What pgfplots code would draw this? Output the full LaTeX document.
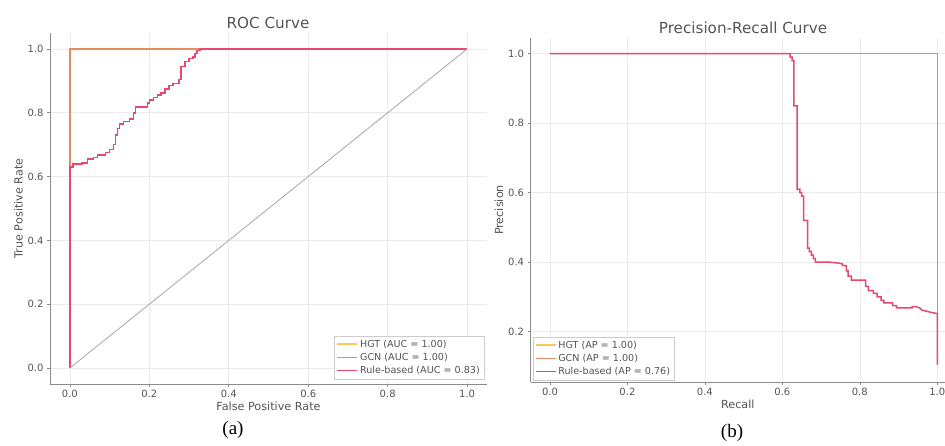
\documentclass[border=0pt]{standalone}
\usepackage{fontspec}
\setmainfont{DejaVu Sans}
\newfontfamily\capfont{Liberation Serif}
\usepackage{pgfplots}
\pgfplotsset{compat=1.18}
\definecolor{hgtc}{rgb}{0.98,0.78,0.35}
\definecolor{gcnc}{rgb}{0.89,0.55,0.38}
\definecolor{rulec}{rgb}{0.91,0.28,0.44}
\definecolor{spinec}{rgb}{0.55,0.55,0.55}
\definecolor{gridc}{rgb}{0.92,0.92,0.92}
\definecolor{txtc}{rgb}{0.33,0.33,0.33}
\pgfplotsset{mystyle/.style={
  scale only axis,
  axis lines*=left,
  axis line style={spinec, line width=0.9pt},
  grid=major,
  major grid style={gridc, line width=0.6pt},
  tick align=outside,
  major tick length=3pt,
  tick style={spinec, line width=0.6pt},
  xtick={0,0.2,0.4,0.6,0.8,1.0},
  ticklabel style={font=\fontsize{10}{12}\selectfont},
  /pgf/number format/fixed,
  /pgf/number format/fixed zerofill,
  /pgf/number format/precision=1,
  /pgf/number format/assume math mode=true,
  label style={font=\fontsize{11.2}{13}\selectfont},
  legend style={font=\fontsize{9.6}{11}\selectfont, draw=black!20, fill=white, inner sep=2pt, row sep=0.3pt},
  legend cell align=left,
  legend image code/.code={\draw[##1] (0pt,0pt) -- (20pt,0pt);},
}}
\begin{document}
\color{txtc}%
\begin{tikzpicture}
\useasboundingbox (0,0) rectangle (945pt,446pt);
% ---------------- ROC ----------------
\begin{axis}[mystyle,
  at={(50pt,62pt)}, anchor=south west,
  width=437pt, height=351pt,
  xmin=-0.05, xmax=1.05, ymin=-0.05, ymax=1.05,
  ytick={0,0.2,0.4,0.6,0.8,1.0},
  xlabel={False Positive Rate}, ylabel={True Positive Rate},
  xlabel style={yshift=3pt}, ylabel style={yshift=-2pt},
  legend style={at={(1,0)}, anchor=south east, xshift=-3pt, yshift=5pt},
]
\addplot[color=hgtc, line width=1.5pt] coordinates {(0,0)(0,1)(1,1)};
\addlegendentry{HGT (AUC = 1.00)}
\addplot[color=gcnc, line width=1.5pt] coordinates {(0,0)(0,1)(1,1)};
\addlegendentry{GCN (AUC = 1.00)}
\addplot[color=rulec, line width=1.5pt] coordinates {
(0,0)(0,0.63)(0.008,0.63)(0.008,0.64)(0.03,0.64)(0.03,0.642)(0.045,0.642)(0.045,0.655)
(0.06,0.655)(0.06,0.66)(0.07,0.66)(0.07,0.668)(0.09,0.668)(0.09,0.675)(0.1,0.675)(0.1,0.685)
(0.11,0.685)(0.11,0.70)(0.115,0.70)(0.115,0.73)(0.12,0.73)(0.12,0.75)(0.125,0.75)(0.125,0.765)
(0.135,0.765)(0.135,0.772)(0.15,0.772)(0.15,0.78)(0.16,0.78)(0.16,0.80)(0.165,0.80)(0.165,0.818)
(0.195,0.818)(0.195,0.83)(0.2,0.83)(0.2,0.84)(0.21,0.84)(0.21,0.848)(0.22,0.848)(0.22,0.855)
(0.23,0.855)(0.23,0.862)(0.24,0.862)(0.24,0.875)(0.25,0.875)(0.25,0.885)(0.26,0.885)(0.26,0.892)
(0.275,0.892)(0.275,0.905)(0.28,0.905)(0.28,0.945)(0.29,0.945)(0.29,0.96)(0.30,0.96)(0.30,0.97)
(0.31,0.97)(0.31,0.975)(0.315,0.975)(0.315,0.985)(0.32,0.985)(0.32,0.995)(0.328,0.995)(0.328,1.0)(1,1)};
\addlegendentry{Rule-based (AUC = 0.83)}
\addplot[forget plot, color=black!35, line width=0.8pt] coordinates {(0,0)(1,1)};
\end{axis}
% ---------------- PR ----------------
\begin{axis}[mystyle,
  at={(530.6pt,64pt)}, anchor=south west,
  width=414.4pt, height=344pt,
  xmin=-0.05, xmax=1.02, ymin=0.055, ymax=1.045,
  ytick={0.2,0.4,0.6,0.8,1.0},
  xlabel={Recall}, ylabel={Precision},
  xlabel style={yshift=3pt}, ylabel style={yshift=-2pt},
  legend style={at={(0,0)}, anchor=south west, xshift=2pt, yshift=2pt},
]
\addplot[color=hgtc, line width=1.5pt] coordinates {(0,1)(1,1)(1,0.105)};
\addlegendentry{HGT (AP = 1.00)}
\addplot[color=gcnc, line width=1.5pt] coordinates {(0,1)(1,1)(1,0.105)};
\addlegendentry{GCN (AP = 1.00)}
\addplot[color=rulec, line width=1.5pt] coordinates {
(0,1)(0.62,1)(0.62,0.99)(0.625,0.99)(0.625,0.98)(0.63,0.98)(0.63,0.85)(0.638,0.85)(0.638,0.61)
(0.645,0.61)(0.645,0.60)(0.65,0.60)(0.65,0.59)(0.655,0.59)(0.655,0.52)(0.665,0.52)(0.665,0.44)
(0.67,0.44)(0.67,0.43)(0.675,0.43)(0.675,0.42)(0.68,0.42)(0.68,0.41)(0.685,0.41)(0.685,0.40)
(0.72,0.40)(0.74,0.398)(0.755,0.395)(0.755,0.39)(0.765,0.39)(0.765,0.375)(0.77,0.375)(0.77,0.36)
(0.778,0.36)(0.778,0.348)(0.815,0.348)(0.815,0.33)(0.822,0.33)(0.822,0.318)(0.835,0.318)(0.835,0.31)
(0.845,0.31)(0.845,0.30)(0.855,0.30)(0.855,0.29)(0.862,0.29)(0.862,0.283)(0.885,0.283)(0.885,0.275)
(0.895,0.275)(0.895,0.268)(0.935,0.268)(0.935,0.272)(0.945,0.272)(0.955,0.268)(0.96,0.262)
(0.975,0.258)(0.985,0.255)(1.0,0.252)(1.0,0.105)};
\addlegendentry{Rule-based (AP = 0.76)}
\end{axis}
% ---------------- titles and captions ----------------
\node[font=\fontsize{15.2}{17}\selectfont] at (268pt,423pt) {ROC Curve};
\node[font=\fontsize{15.2}{17}\selectfont] at (743pt,418pt) {Precision-Recall Curve};
\node[text=black, font=\capfont\fontsize{19}{22}\selectfont] at (233pt,16pt) {(a)};
\node[text=black, font=\capfont\fontsize{19}{22}\selectfont] at (732pt,13pt) {(b)};
\end{tikzpicture}
\end{document}
